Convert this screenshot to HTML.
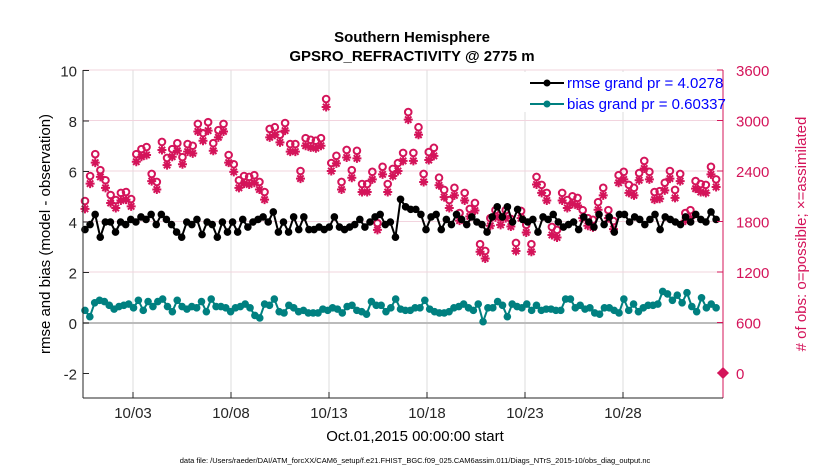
<!DOCTYPE html>
<html><head><meta charset="utf-8"><style>
html,body{margin:0;padding:0;background:#fff;}
svg{display:block;font-family:"Liberation Sans",sans-serif;}
</style></head><body>
<svg id="chart" width="830" height="470" viewBox="0 0 830 470" xmlns="http://www.w3.org/2000/svg">
<text x="412" y="42" text-anchor="middle" font-size="15" font-weight="bold">Southern Hemisphere</text>
<text x="412" y="61" text-anchor="middle" font-size="15" font-weight="bold">GPSRO_REFRACTIVITY @ 2775 m</text>
<g id="grid"></g>
<line x1="83" x2="723" y1="323" y2="323" stroke="#bbb" stroke-width="2"/>
<g id="series"></g>
<g id="axes"></g>
<g>
<rect x="524" y="72" width="196" height="40" fill="#fff"/>
<g>
<line x1="530" x2="564" y1="83" y2="83" stroke="#000" stroke-width="2"/><circle cx="547" cy="83" r="3.5" fill="#000"/>
<text x="567" y="88" font-size="15" fill="#0000ff">rmse grand pr = 4.0278</text></g>
<g>
<line x1="530" x2="564" y1="104" y2="104" stroke="#008080" stroke-width="2"/><circle cx="547" cy="104" r="3.5" fill="#008080"/>
<text x="567" y="109" font-size="15" fill="#0000ff">bias grand pr = 0.60337</text></g>
</g>
<text transform="translate(50,234) rotate(-90)" text-anchor="middle" font-size="15">rmse and bias (model - observation)</text>
<text transform="translate(806,234) rotate(-90)" text-anchor="middle" font-size="15" fill="#d4145a"># of obs: o=possible; ×=assimilated</text>
<text x="415" y="441" text-anchor="middle" font-size="15">Oct.01,2015 00:00:00 start</text>
<text x="415" y="463" text-anchor="middle" font-size="7.5">data file: /Users/raeder/DAI/ATM_forcXX/CAM6_setup/f.e21.FHIST_BGC.f09_025.CAM6assim.011/Diags_NTrS_2015-10/obs_diag_output.nc</text>
</svg>
<script>
const rmse=[3.7,3.9,4.3,3.4,4.0,4.0,3.6,4.0,3.9,4.1,4.0,4.2,4.1,4.3,3.9,4.3,4.1,3.9,3.6,3.4,4.0,3.9,4.1,3.5,4.0,3.9,3.4,4.0,3.6,4.0,3.6,4.1,3.8,4.0,4.1,4.2,4.0,4.4,3.6,4.0,3.6,4.2,3.7,4.2,3.7,
3.7,3.8,3.7,3.8,4.2,3.8,3.7,3.8,3.9,4.1,3.8,4.0,4.2,4.3,3.9,4.0,3.4,4.9,4.6,4.5,4.5,4.3,3.7,4.2,4.3,3.7,4.1,3.9,4.3,4.1,3.9,4.2,4.0,3.9,3.6,4.2,4.6,4.2,
4.6,4.0,4.5,4.1,4.0,4.1,3.6,4.2,4.1,4.3,4.0,3.8,3.9,4.0,3.7,4.2,4.0,3.8,4.3,3.9,4.2,3.6,4.3,4.3,4.0,4.2,4.1,3.9,4.1,4.3,3.7,4.2,4.1,4.0,3.9,4.2,4.0,4.3,4.1,4.0,4.4,4.1];
const bias=[0.5,0.25,0.8,0.9,0.85,0.7,0.55,0.65,0.7,0.75,0.6,0.9,0.5,0.85,0.65,0.85,0.95,0.65,0.45,0.9,0.65,0.55,0.65,0.6,0.85,0.45,0.95,0.65,0.65,0.6,0.45,0.6,0.65,0.75,0.6,0.3,0.2,0.75,0.7,0.95,0.45,0.4,0.7,0.6,0.45,
0.5,0.4,0.4,0.4,0.55,0.5,0.6,0.55,0.4,0.65,0.7,0.5,0.45,0.35,0.85,0.7,0.7,0.45,0.6,0.95,0.55,0.5,0.5,0.6,0.6,0.9,0.55,0.45,0.4,0.4,0.45,0.6,0.65,0.75,0.6,0.5,0.75,0.05,
0.6,0.6,0.85,0.7,0.25,0.75,0.65,0.6,0.75,0.5,0.7,0.5,0.55,0.55,0.5,0.5,0.95,0.95,0.6,0.7,0.55,0.6,0.4,0.35,0.6,0.6,0.5,0.4,0.95,0.5,0.75,0.45,0.6,0.7,0.7,0.75,1.25,1.15,0.9,1.1,0.8,1.2,0.65,0.45,1.0,0.6,0.75,0.6];
const possible=[2043,2340,2600,2410,2290,2115,2055,2140,2150,2067,2600,2660,2685,2365,2270,2745,2555,2660,2730,2565,2720,2700,2960,2850,2980,2730,2885,2960,2590,2480,2290,2340,2330,2350,2270,2150,2900,2920,2830,2970,2720,
2720,2400,2790,2770,2760,2790,3255,2495,2580,2270,2650,2410,2640,2245,2245,2390,1780,2450,2245,2425,2495,2615,3100,2615,2920,2365,2625,2675,2320,2175,2055,2200,1900,2140,1950,2020,1530,1450,1840,1935,
1850,1935,1830,1545,1925,1760,1530,2330,2235,2140,1735,1700,2140,2055,2100,2080,1935,1840,1820,2030,2200,1935,1805,2350,2390,2235,2200,2375,2520,2390,2150,2160,2260,2400,2175,2365,1900,1935,2280,2245,2235,2450,2300];
const assimilated=[1950,2250,2500,2330,2200,2020,1960,2050,2060,1980,2510,2570,2590,2280,2180,2650,2470,2570,2640,2480,2630,2610,2870,2760,2880,2640,2800,2870,2500,2390,2200,2250,2240,2260,2180,2060,2800,2830,2740,2880,2630,
2630,2310,2700,2680,2670,2700,3160,2400,2490,2180,2560,2320,2550,2150,2150,2300,1700,2360,2150,2340,2400,2520,3010,2520,2830,2270,2530,2580,2230,2090,1960,2110,1810,2050,1860,1930,1440,1360,1750,1850,
1760,1840,1740,1450,1840,1670,1440,2240,2140,2050,1640,1610,2050,1960,2010,1990,1840,1750,1730,1940,2110,1840,1710,2260,2300,2140,2110,2290,2430,2300,2060,2070,2170,2310,2080,2280,1810,1840,2190,2150,2140,2360,2210];
const leftTicks=[-2,0,2,4,6,8,10];
const rightTicks=[0,600,1200,1800,2400,3000,3600];
const xTickDays=[2,7,12,17,22,27];
const xTickLabels=["10/03","10/08","10/13","10/18","10/23","10/28"];

const NS="http://www.w3.org/2000/svg";
const X0=83,X1=723,YT=70,YB=398;
const xs=t=>133+(t-2)*19.6;
const yl=v=>323-v*25.25;
const yr=c=>373-c*50.5/600;
const tStart=-0.45,tEnd=31.75;
function mk(tag,attrs,parent){const e=document.createElementNS(NS,tag);for(const k in attrs)e.setAttribute(k,attrs[k]);parent.appendChild(e);return e;}
const grid=document.getElementById('grid'),ser=document.getElementById('series'),ax=document.getElementById('axes');
xTickDays.forEach((d,i)=>{const l=mk('line',{x1:xs(d),x2:xs(d),y1:YT,y2:YB,stroke:'#ddd','stroke-width':1},grid);

});
rightTicks.forEach(c=>{if(c===0)return;const l=mk('line',{x1:X0,x2:X1,y1:yr(c),y2:yr(c),stroke:'#f2d4de','stroke-width':1},grid);

});
const la=mk('line',{x1:X0,x2:X0,y1:YT,y2:YB,stroke:'#262626','stroke-width':1},ax);


const ra=mk('line',{x1:X1,x2:X1,y1:YT,y2:YB,stroke:'#d4145a','stroke-width':1},ax);


const ba=mk('line',{x1:X0,x2:X1,y1:YB,y2:YB,stroke:'#262626','stroke-width':1},ax);


leftTicks.forEach(v=>{mk('line',{x1:X0,x2:X0+6,y1:yl(v),y2:yl(v),stroke:'#262626'},ax);
const t=mk('text',{x:X0-6,y:yl(v)+6,'text-anchor':'end','font-size':15,fill:'#262626'},ax);t.textContent=v;

});
rightTicks.forEach(c=>{mk('line',{x1:X1-6,x2:X1,y1:yr(c),y2:yr(c),stroke:'#d4145a'},ax);
const t=mk('text',{x:X1+13,y:yr(c)+6,'font-size':15,fill:'#d4145a'},ax);t.textContent=c;

});
xTickDays.forEach((d,i)=>{mk('line',{x1:xs(d),x2:xs(d),y1:YB,y2:YB-6,stroke:'#262626'},ax);
const t=mk('text',{x:xs(d),y:YB+20,'text-anchor':'middle','font-size':15,fill:'#262626'},ax);t.textContent=xTickLabels[i];

});
const dm=mk('path',{d:`M${X1-6},${yr(0)} L${X1},${yr(0)-6} L${X1+6},${yr(0)} L${X1},${yr(0)+6} Z`,fill:'#d4145a'},ax);


function tOf(i,n){return tStart+i*(tEnd-tStart)/(n-1);}
function star(cx,cy,r){let d='';for(let k=0;k<4;k++){const a=k*Math.PI/4;d+=`M${cx-r*Math.cos(a)},${cy-r*Math.sin(a)}L${cx+r*Math.cos(a)},${cy+r*Math.sin(a)}`;}return d;}
assimilated.forEach((c,i)=>{const p=mk('path',{d:star(xs(tOf(i,assimilated.length)),yr(c),4.5),stroke:'#d4145a','stroke-width':2},ser);

});
possible.forEach((c,i)=>{const p=mk('circle',{cx:xs(tOf(i,possible.length)),cy:yr(c),r:3.3,fill:'none',stroke:'#d4145a','stroke-width':2},ser);

});
function line(arr,color,name){
const pts=arr.map((v,i)=>`${xs(tOf(i,arr.length))},${yl(v)}`).join(' ');
const pl=mk('polyline',{points:pts,fill:'none',stroke:color,'stroke-width':2},ser);


arr.forEach((v,i)=>{const c=mk('circle',{cx:xs(tOf(i,arr.length)),cy:yl(v),r:3.8,fill:color},ser);

});}
line(rmse,'#000','rmse');
line(bias,'#008080','bias');
</script>
</body></html>
